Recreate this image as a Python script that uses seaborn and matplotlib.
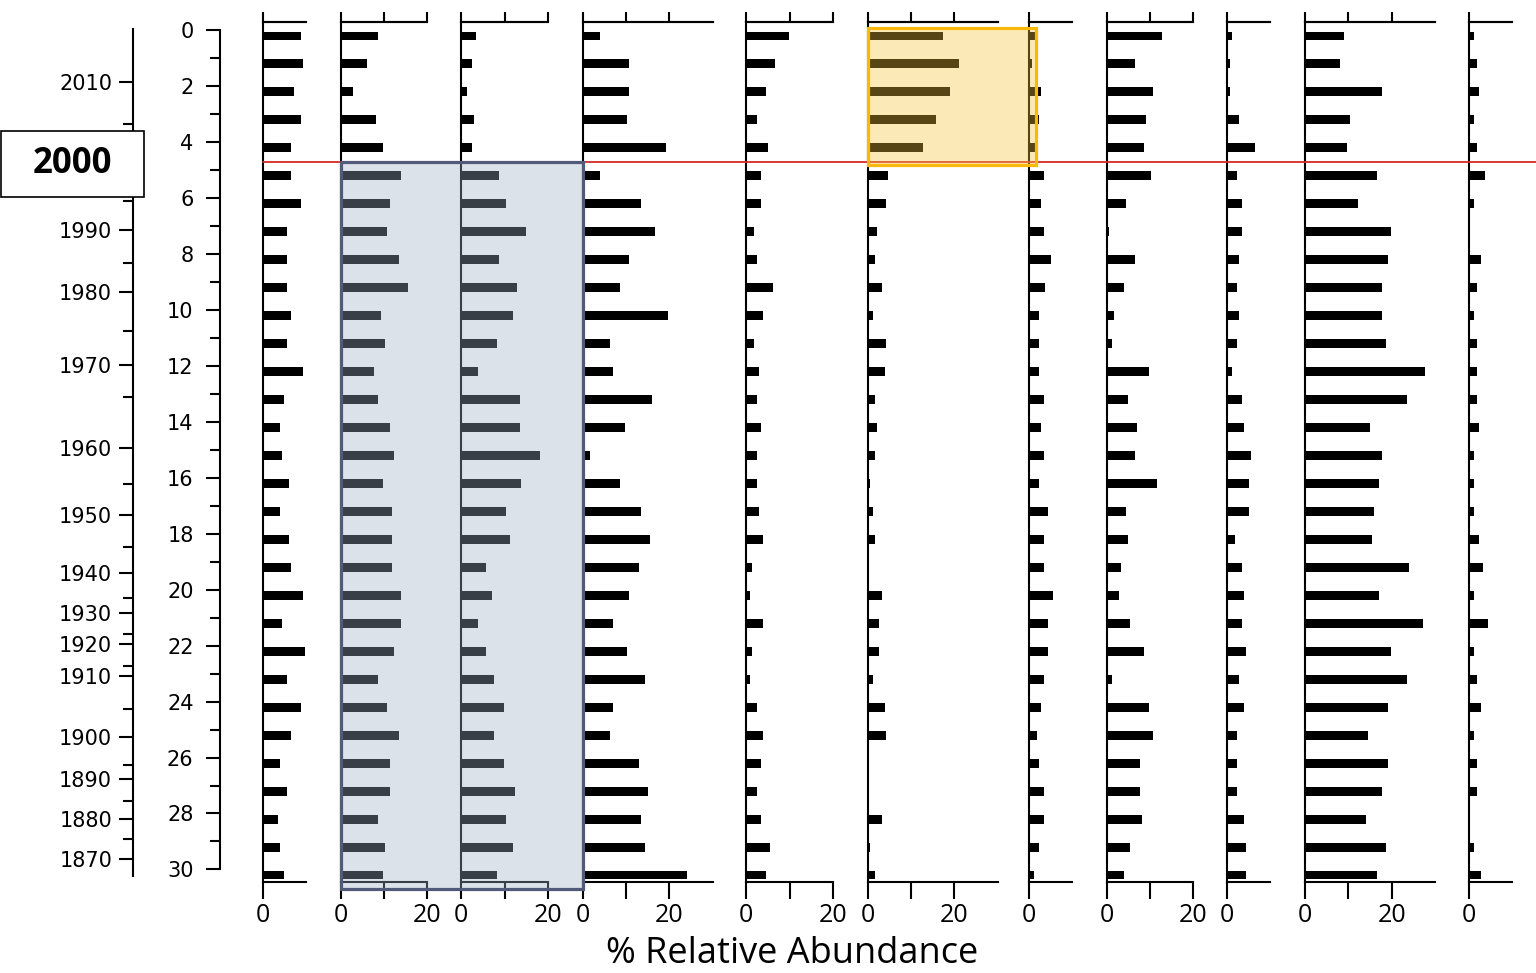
import matplotlib
matplotlib.use("Agg")
import matplotlib.pyplot as plt
import matplotlib.transforms as mtransforms
from matplotlib.patches import Rectangle
from matplotlib.lines import Line2D
import seaborn as sns
import pandas as pd

# sample depths (cm) - one bar per sample
sample_depth = [0.2, 1.2, 2.2, 3.2, 4.2, 5.2, 6.2, 7.2, 8.2, 9.2, 10.2,
                11.2, 12.2, 13.2, 14.2, 15.2, 16.2, 17.2, 18.2, 19.2, 20.2,
                21.2, 22.2, 23.2, 24.2, 25.2, 26.2, 27.2, 28.2, 29.2, 30.2]

# % relative abundance for each taxon panel (top to bottom)
p1 = [8.7, 9.2, 7.1, 8.7, 6.5, 6.5, 8.7, 5.5, 5.5, 5.5, 6.5, 5.5, 9.2, 4.8, 3.9, 4.4,
      6.0, 3.9, 6.0, 6.5, 9.2, 4.4, 9.8, 5.5, 8.7, 6.5, 3.9, 5.5, 3.4, 3.9, 4.8]
p2 = [8.7, 6.0, 2.9, 8.2, 9.7, 13.9, 11.3, 10.8, 13.4, 15.5, 9.2, 10.3, 7.6, 8.7, 11.3, 12.4,
      9.7, 11.8, 11.8, 11.8, 13.9, 13.9, 12.4, 8.7, 10.8, 13.4, 11.3, 11.3, 8.7, 10.3, 9.7]
p3 = [3.5, 2.4, 1.3, 2.9, 2.4, 8.8, 10.3, 14.9, 8.8, 12.9, 11.9, 8.2, 3.9, 13.5, 13.5, 18.2,
      13.9, 10.3, 11.3, 5.6, 7.2, 3.9, 5.6, 7.6, 9.8, 7.6, 9.8, 12.4, 10.3, 11.9, 8.2]
p4 = [3.9, 10.8, 10.8, 10.3, 19.2, 3.9, 13.4, 16.7, 10.8, 8.6, 19.7, 6.4, 7.1, 16.0, 9.7, 1.8,
      8.6, 13.4, 15.5, 12.9, 10.8, 7.1, 10.3, 14.5, 7.1, 6.4, 12.9, 15.0, 13.4, 14.5, 24.0]
p5 = [9.8, 6.6, 4.5, 2.4, 5.0, 3.5, 3.5, 1.8, 2.4, 6.1, 3.9, 1.8, 2.9, 2.4, 3.5, 2.4,
      2.4, 2.9, 3.9, 1.3, 0.8, 3.9, 1.3, 0.8, 2.4, 3.9, 3.5, 2.4, 3.5, 5.5, 4.5]
p6 = [17.5, 21.1, 19.0, 15.8, 12.8, 4.8, 4.3, 2.1, 1.7, 3.3, 1.2, 4.3, 3.9, 1.7, 2.1, 1.7,
      0.6, 1.2, 1.7, 0.0, 3.3, 2.7, 2.7, 1.2, 3.9, 4.3, 0.0, 0.0, 3.3, 0.6, 1.7]
p7 = [1.6, 0.7, 2.8, 2.3, 1.6, 3.4, 2.8, 3.4, 5.0, 3.8, 2.3, 2.3, 2.3, 3.4, 2.8, 3.4,
      2.3, 4.5, 3.4, 3.4, 5.5, 4.5, 4.5, 3.4, 2.8, 1.8, 2.3, 3.4, 3.4, 2.3, 1.2]
p8 = [12.8, 6.5, 10.8, 9.1, 8.6, 10.2, 4.4, 0.6, 6.5, 3.9, 1.7, 1.2, 9.7, 4.9, 7.0, 6.5,
      11.7, 4.4, 4.9, 3.3, 2.8, 5.4, 8.6, 1.2, 9.7, 10.8, 7.6, 7.6, 8.1, 5.4, 3.9]
p9 = [1.2, 0.7, 0.7, 2.8, 6.5, 2.3, 3.4, 3.4, 2.8, 2.3, 2.8, 2.3, 1.2, 3.4, 3.9, 5.5,
      5.0, 5.0, 1.8, 3.4, 3.9, 3.4, 4.5, 2.8, 3.9, 2.3, 2.3, 2.3, 3.9, 4.5, 4.5]
p10 = [9.1, 8.1, 17.7, 10.3, 9.7, 16.7, 12.3, 19.8, 19.2, 17.7, 17.7, 18.7, 27.7, 23.5, 15.0, 17.7,
       17.1, 16.0, 15.5, 24.0, 17.1, 27.2, 19.8, 23.5, 19.2, 14.5, 19.2, 17.7, 14.0, 18.7, 16.7]
p11 = [1.2, 1.8, 2.3, 1.2, 1.8, 3.8, 1.2, 0.0, 2.8, 1.8, 1.2, 1.8, 1.8, 1.8, 2.3, 1.2,
       1.2, 1.2, 2.3, 3.3, 1.2, 4.4, 1.2, 1.8, 2.8, 1.2, 1.8, 1.8, 0.0, 1.2, 2.8]
panels = [p1, p2, p3, p4, p5, p6, p7, p8, p9, p10, p11]
# x-axis extent of each panel (%)
panel_max = [10, 20, 20, 30, 20, 30, 10, 20, 10, 30, 10]

# age model: calendar years against depth (2000 is shown by the boxed label)
year_labels = ['2010', '', '1990', '1980', '1970', '1960', '1950', '1940', '1930',
               '1920', '1910', '1900', '1890', '1880', '1870']
year_depth = [1.83, 4.7, 7.14, 9.34, 11.96, 14.93, 17.33, 19.41, 20.84, 21.95, 23.09,
              25.28, 26.78, 28.2, 29.63]
year_minor_depth = [3.36, 6.09, 8.32, 10.76, 13.1, 16.23, 18.47, 20.3, 21.6, 22.73,
                    24.25, 26.28, 27.55, 28.92]

# depth of the year-2000 horizon and highlighted intervals
horizon_depth = 4.72
blue_box_bottom = 30.7
orange_box_top = -0.09
orange_box_bottom = 4.8

W, H = 1536, 973
sns.set_style("ticks")
plt.rcParams['font.family'] = ['DejaVu Sans']
plt.rcParams['axes.linewidth'] = 1.5
plt.rcParams['xtick.major.width'] = 1.5
plt.rcParams['ytick.major.width'] = 1.5
plt.rcParams['ytick.minor.width'] = 1.5
plt.rcParams['xtick.color'] = 'black'
plt.rcParams['ytick.color'] = 'black'
plt.rcParams['xtick.labelcolor'] = 'black'
plt.rcParams['ytick.labelcolor'] = 'black'
plt.rcParams['text.color'] = 'black'
plt.rcParams['axes.edgecolor'] = 'black'

fig = plt.figure(figsize=(W / 100, H / 100), dpi=100)

top_px, bot_px = 22, 882
ylims = (30.45, -0.3)
px_per_unit = 4.33
# left edge (0 %) of each panel in pixels
panel_left = [263, 340.7, 461.3, 582.7, 746.3, 867.7, 1029, 1106.7, 1227, 1305, 1469]


def rect_px(x, w):
    return [x / W, (H - bot_px) / H, w / W, (bot_px - top_px) / H]


axes = []
for vals, mx, x0 in zip(panels, panel_max, panel_left):
    ax = fig.add_axes(rect_px(x0, mx * px_per_unit))
    ax.set_facecolor('none')
    df = pd.DataFrame({'depth': sample_depth, 'pct': vals})
    sns.barplot(data=df, x='pct', y='depth', orient='h', native_scale=True,
                color='black', saturation=1, width=0.32, linewidth=0,
                errorbar=None, ax=ax)
    ax.set_xlim(0, mx)
    ax.set_ylim(*ylims)
    ax.spines['right'].set_visible(False)
    ax.set_yticks([])
    ax.set_xlabel('')
    ax.set_ylabel('')
    ticks = [0, 10, 20] if mx >= 20 else [0]
    labels = ['0', '', '20'] if mx >= 20 else ['0']
    ax.set_xticks(ticks, labels, fontsize=18, fontfamily='Open Sans')
    ax.tick_params(axis='x', direction='out', length=12, pad=3)
    top = ax.secondary_xaxis('top')
    top.set_xticks(ticks)
    top.tick_params(axis='x', direction='out', length=7, labeltop=False, width=1.5)
    top.spines['top'].set_linewidth(1.5)
    axes.append(ax)

# depth axis
ax_d = fig.add_axes(rect_px(220, 1))
ax_d.set_ylim(*ylims)
for s in ['top', 'right', 'bottom']:
    ax_d.spines[s].set_visible(False)
ax_d.spines['left'].set_bounds(0, 30)
ax_d.set_xticks([])
ax_d.set_yticks(range(0, 31, 2))
ax_d.set_yticks(range(0, 31), minor=True)
ax_d.tick_params(axis='y', which='major', length=10, pad=9, labelsize=15)
ax_d.tick_params(axis='y', which='minor', length=7)

# age axis
ax_y = fig.add_axes(rect_px(133, 1))
ax_y.set_ylim(*ylims)
for s in ['top', 'right', 'bottom']:
    ax_y.spines[s].set_visible(False)
ax_y.spines['left'].set_bounds(-0.04, 30.25)
ax_y.set_xticks([])
ax_y.set_yticks(year_depth, year_labels)
ax_y.set_yticks(year_minor_depth, minor=True)
ax_y.tick_params(axis='y', which='major', length=10, pad=5, labelsize=15)
ax_y.tick_params(axis='y', which='minor', length=7)

to_fig = fig.transFigure.inverted()
blend = mtransforms.blended_transform_factory(fig.transFigure, axes[0].transData)


def fig_x(ax, xval):
    return to_fig.transform(ax.transData.transform((xval, 0)))[0]


# red 2000 horizon
fig.add_artist(Line2D([fig_x(axes[0], 0), 1], [horizon_depth, horizon_depth],
                      transform=blend, color='#d62728', lw=1.3, zorder=5))

# blue highlight over panels 2-3
bx0, bx1 = fig_x(axes[1], 0), fig_x(axes[3], 0)
fig.add_artist(Rectangle((bx0, horizon_depth), bx1 - bx0, blue_box_bottom - horizon_depth,
                         transform=blend, facecolor='#9fb0c4', alpha=0.36,
                         edgecolor='none', zorder=6))
fig.add_artist(Rectangle((bx0, horizon_depth), bx1 - bx0, blue_box_bottom - horizon_depth,
                         transform=blend, facecolor='none', edgecolor='#525a7a',
                         lw=2.3, zorder=7))

# orange highlight over panels 6-7
ox0, ox1 = fig_x(axes[5], 0), fig_x(axes[6], 1.6)
fig.add_artist(Rectangle((ox0, orange_box_top), ox1 - ox0, orange_box_bottom - orange_box_top,
                         transform=blend, facecolor='#f6c23b', alpha=0.36,
                         edgecolor='none', zorder=6))
fig.add_artist(Rectangle((ox0, orange_box_top), ox1 - ox0, orange_box_bottom - orange_box_top,
                         transform=blend, facecolor='none', edgecolor='#f8b90a',
                         lw=2.3, zorder=7))

# 2000 label box
fig.add_artist(Rectangle((0.5 / W, 4.78 - 1.18), 143 / W, 2.36, transform=blend,
                         facecolor='white', edgecolor='black', lw=1.2, zorder=8))
fig.text(72 / W, 4.78, '2000', transform=blend, ha='center', va='center',
         fontsize=25, fontweight='bold', fontfamily='Open Sans', zorder=9)

fig.text(792 / W, (H - 954) / H, '% Relative Abundance', ha='center', va='center',
         fontsize=26, fontfamily='Open Sans')

fig.savefig('out.png', dpi=100)
